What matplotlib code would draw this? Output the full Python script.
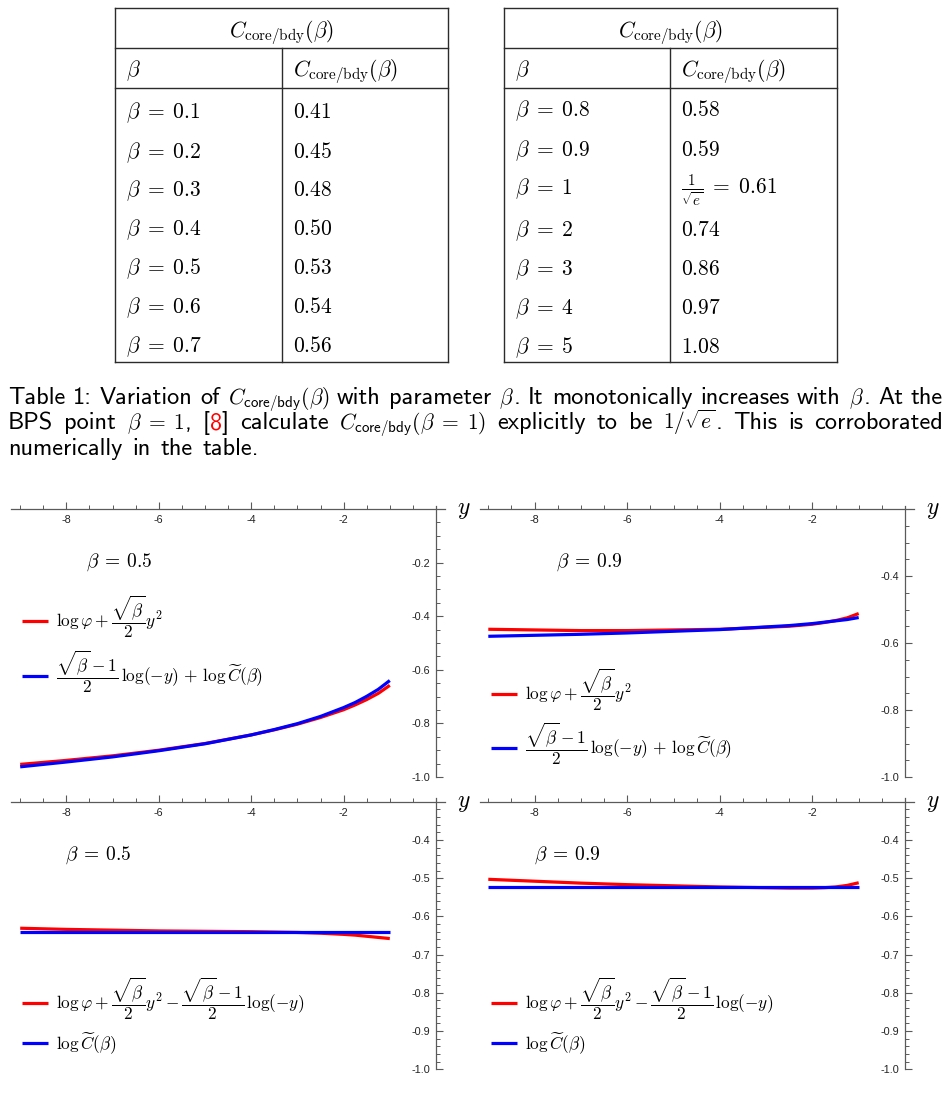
import numpy as np
import matplotlib
matplotlib.use('Agg')
import matplotlib.pyplot as plt
from matplotlib.lines import Line2D
from matplotlib.ticker import FixedLocator, FuncFormatter

plt.rcParams['mathtext.fontset'] = 'cm'
plt.rcParams['font.family'] = ['DejaVu Sans']
plt.rcParams['axes.unicode_minus'] = True

# ---------------- data ----------------
table1_beta = [0.1, 0.2, 0.3, 0.4, 0.5, 0.6, 0.7]
table1_C = [0.41, 0.45, 0.48, 0.50, 0.53, 0.54, 0.56]
table2_beta = [0.8, 0.9, 1, 2, 3, 4, 5]
table2_C = [0.58, 0.59, 0.61, 0.74, 0.86, 0.97, 1.08]

y_grid = [-9, -8, -7, -6, -5, -4, -3.5, -3, -2.5, -2, -1.75, -1.5, -1.25, -1]

# panel (a): beta = 0.5
a_red = [-0.953, -0.938, -0.921, -0.900, -0.875, -0.843, -0.824, -0.803, -0.778,
         -0.749, -0.731, -0.711, -0.688, -0.658]
a_blue = [-0.962, -0.944, -0.925, -0.902, -0.876, -0.843, -0.823, -0.801, -0.774,
          -0.741, -0.722, -0.699, -0.673, -0.640]
# panel (b): beta = 0.9
b_red = [-0.559, -0.561, -0.563, -0.563, -0.561, -0.559, -0.556, -0.553, -0.550,
         -0.544, -0.539, -0.533, -0.525, -0.512]
b_blue = [-0.580, -0.577, -0.574, -0.570, -0.565, -0.560, -0.556, -0.552, -0.548,
          -0.542, -0.538, -0.534, -0.530, -0.524]
# panel (c): beta = 0.5
c_red = [-0.631, -0.634, -0.636, -0.638, -0.639, -0.640, -0.641, -0.642, -0.644,
         -0.647, -0.649, -0.652, -0.655, -0.658]
c_blue = [-0.640] * 14
# panel (d): beta = 0.9
d_red = [-0.503, -0.508, -0.513, -0.517, -0.520, -0.523, -0.524, -0.525, -0.526,
         -0.526, -0.525, -0.523, -0.519, -0.512]
d_blue = [-0.524] * 14

panel_beta = [0.5, 0.9, 0.5, 0.9]
x_major = [-8, -6, -4, -2]

lab_top_red = r'$\log\varphi+\dfrac{\sqrt{\beta}}{2}y^2$'
lab_top_blue = r'$\dfrac{\sqrt{\beta}-1}{2}\,\log(-y)\,+\,\log\widetilde{C}(\beta)$'
lab_bot_red = r'$\log\varphi+\dfrac{\sqrt{\beta}}{2}y^2-\dfrac{\sqrt{\beta}-1}{2}\,\log(-y)$'
lab_bot_blue = r'$\log\widetilde{C}(\beta)$'

# ---------------- figure ----------------
W, H = 951, 1100
fig = plt.figure(figsize=(W / 100, H / 100), dpi=100)


def fx(x):
    return x / W


def fy(y):
    return 1 - y / H


def ftext(x, y, s, **kw):
    return fig.text(fx(x), fy(y), s, **kw)


TC = '#2b2b2b'


def seg(x0, y0, x1, y1):
    fig.add_artist(Line2D([fx(x0), fx(x1)], [fy(y0), fy(y1)],
                          transform=fig.transFigure, color=TC, lw=1.0,
                          solid_capstyle='projecting'))


# ---------------- tables ----------------
TFS = 15.5
header = r'$C_{\mathrm{core/bdy}}(\beta)$'


def draw_table(x0, x1, xdiv, betas, vals, row_base):
    top, h1, h2, bot = 8, 48, 88, 362
    seg(x0, top, x1, top)
    seg(x0, h1, x1, h1)
    seg(x0, h2, x1, h2)
    seg(x0, bot, x1, bot)
    seg(x0, top, x0, bot)
    seg(x1, top, x1, bot)
    seg(xdiv, h1, xdiv, bot)
    ftext((x0 + x1) / 2, 37, header, ha='center', va='baseline', fontsize=TFS)
    ftext(x0 + 11, 76, r'$\beta$', ha='left', va='baseline', fontsize=TFS)
    ftext(xdiv + 11, 76, header, ha='left', va='baseline', fontsize=TFS)
    for b, v, yb in zip(betas, vals, row_base):
        ftext(x0 + 11, yb, rf'$\beta\;=\;{b:g}$', ha='left', va='baseline', fontsize=TFS)
        if b == 1:
            s = rf'$\frac{{1}}{{\sqrt{{e}}}}\;=\;{v:.2f}$'
        else:
            s = rf'${v:.2f}$'
        ftext(xdiv + 11, yb, s, ha='left', va='baseline', fontsize=TFS)


draw_table(115, 448, 282, table1_beta, table1_C, [118, 158, 196, 235, 274, 313, 352])
draw_table(504, 837, 670, table2_beta, table2_C, [116, 156, 194, 236, 275, 314, 353])

# ---------------- caption (justified) ----------------
CFS = 17.5
MFS = 15.5
RED = '#ff0000'
cap_lines = [
    [[("Table", None)], [("1:", None)], [("Variation", None)], [("of", None)],
     [(r"$C_{\mathsf{core/bdy}}(\beta)$", None)], [("with", None)], [("parameter", None)],
     [(r"$\beta$", None), (".", None)], [("It", None)], [("monotonically", None)],
     [("increases", None)], [("with", None)], [(r"$\beta$", None), (".", None)],
     [("At", None)], [("the", None)]],
    [[("BPS", None)], [("point", None)], [(r"$\beta\;=\;1$", None), (",", None)],
     [("[", None), ("8", RED), ("]", None)], [("calculate", None)],
     [(r"$C_{\mathsf{core/bdy}}(\beta\;=\;1)$", None)], [("explicitly", None)], [("to", None)],
     [("be", None)], [(r"$1/\sqrt{e}$", None), (".", None)], [("This", None)], [("is", None)],
     [("corroborated", None)]],
    [[("numerically", None)], [("in", None)], [("the", None)], [("table.", None)]],
]
cap_base = [404, 429, 455]
cap_x0, cap_x1 = 8, 943
renderer = fig.canvas.get_renderer()
for li, (words, yb) in enumerate(zip(cap_lines, cap_base)):
    objs = []
    widths = []
    for w in words:
        parts = []
        tot = 0
        for s, col in w:
            fsz = MFS if '$' in s else CFS
            t = ftext(0, yb, s, ha='left', va='baseline', fontsize=fsz,
                      family='cmss10', color=col if col else 'black')
            wd = t.get_window_extent(renderer).width
            parts.append((t, wd))
            tot += wd
        objs.append(parts)
        widths.append(tot)
    if li < len(cap_lines) - 1:
        gap = (cap_x1 - cap_x0 - sum(widths)) / (len(words) - 1)
    else:
        gap = 10
    x = cap_x0
    for parts, wd in zip(objs, widths):
        xx = x
        for t, pw in parts:
            t.set_x(fx(xx))
            xx += pw
        x += wd + gap

# ---------------- plots ----------------
AX_C = '#5a5a5a'


def add_panel(px0, scale_x, py_origin, y_origin, py_bottom, xlim, ytop, ymaj, ymin,
              yv_red, yv_blue, beta, beta_xy, lab_red, lab_blue, leg_x, leg_y):
    ylo = -1.0
    sy = (py_bottom - py_origin) / (y_origin - ylo)
    left = px0 + scale_x * xlim[0]
    right = px0 + scale_x * xlim[1]
    top = py_origin - sy * (ytop - y_origin)
    ax = fig.add_axes([fx(left), fy(py_bottom), (right - left) / W, (py_bottom - top) / H])
    ax.set_xlim(*xlim)
    ax.set_ylim(ylo, ytop)
    ax.patch.set_alpha(0)
    for s in ['top', 'right']:
        ax.spines[s].set_visible(False)
    ax.spines['left'].set_position(('data', 0))
    ax.spines['bottom'].set_position(('data', y_origin))
    for s in ['left', 'bottom']:
        ax.spines[s].set_color(AX_C)
        ax.spines[s].set_linewidth(0.9)
    ax.xaxis.set_major_locator(FixedLocator(x_major))
    ax.xaxis.set_minor_locator(FixedLocator([v for v in np.arange(-9, -0.4, 0.5)
                                             if v not in x_major]))
    ax.yaxis.set_major_locator(FixedLocator(ymaj))
    ax.yaxis.set_minor_locator(FixedLocator(ymin))
    ax.xaxis.set_major_formatter(FuncFormatter(lambda v, p: f'{v:.0f}'))
    ax.yaxis.set_major_formatter(FuncFormatter(lambda v, p: f'{v:.1f}'))
    ax.tick_params(which='major', direction='in', length=5, width=0.8, color=AX_C,
                   labelsize=7.8, labelcolor='#222222')
    ax.tick_params(axis='x', which='major', pad=4.5)
    ax.tick_params(axis='y', which='major', pad=4)
    ax.tick_params(which='minor', direction='in', length=2.8, width=0.7, color=AX_C)
    for lab in ax.get_xticklabels() + ax.get_yticklabels():
        lab.set_family('Liberation Sans')
    lr, = ax.plot(y_grid, yv_red, color='#ff0000', lw=2.3, label=lab_red,
                  solid_capstyle='butt', zorder=3)
    lb, = ax.plot(y_grid, yv_blue, color='#0000ff', lw=2.3, label=lab_blue,
                  solid_capstyle='butt', zorder=4)
    # y label of the horizontal axis
    ftext(right + 12, py_origin, r'$y$', ha='left', va='center', fontsize=17)
    ftext(beta_xy[0], beta_xy[1], rf'$\beta\:=\:{beta:g}$', ha='center', va='center',
          fontsize=14)
    fs = 12.4
    fpx = fs * 100 / 72
    common = dict(frameon=False, loc='center left', fontsize=fs, borderpad=0,
                  borderaxespad=0, handlelength=26 / fpx, handletextpad=8 / fpx,
                  bbox_transform=fig.transFigure)
    leg1 = ax.legend(handles=[lr], bbox_to_anchor=(fx(leg_x), fy(leg_y[0])), **common)
    ax.add_artist(leg1)
    ax.legend(handles=[lb], bbox_to_anchor=(fx(leg_x), fy(leg_y[1])), **common)
    return ax


ymin_top = [round(v, 2) for v in np.arange(-1.0, 0.001, 0.05)]
add_panel(436, 46.2, 509, 0.0, 777, (-9.19, 0.19), 0.012,
          [-1.0, -0.8, -0.6, -0.4, -0.2], [v for v in ymin_top if v < 0],
          a_red, a_blue, panel_beta[0], (119, 562), lab_top_red, lab_top_blue,
          22, (617, 672))
add_panel(905, 46.3, 509, -0.2, 777, (-9.17, 0.19), -0.19,
          [-1.0, -0.8, -0.6, -0.4], [v for v in ymin_top if v < -0.19],
          b_red, b_blue, panel_beta[1], (589, 562), lab_top_red, lab_top_blue,
          491, (690, 744))
ymin_bot = [round(v, 2) for v in np.arange(-1.0, -0.29, 0.02)]
add_panel(436, 46.2, 801.7, -0.3, 1069.3, (-9.19, 0.19), -0.29,
          [-1.0, -0.9, -0.8, -0.7, -0.6, -0.5, -0.4], ymin_bot,
          c_red, c_blue, panel_beta[2], (98, 855), lab_bot_red, lab_bot_blue,
          22, (999, 1043))
add_panel(905, 46.3, 801.7, -0.3, 1069.3, (-9.17, 0.19), -0.29,
          [-1.0, -0.9, -0.8, -0.7, -0.6, -0.5, -0.4], ymin_bot,
          d_red, d_blue, panel_beta[3], (567, 855), lab_bot_red, lab_bot_blue,
          491, (999, 1043))

fig.savefig('out.png', dpi=100)
